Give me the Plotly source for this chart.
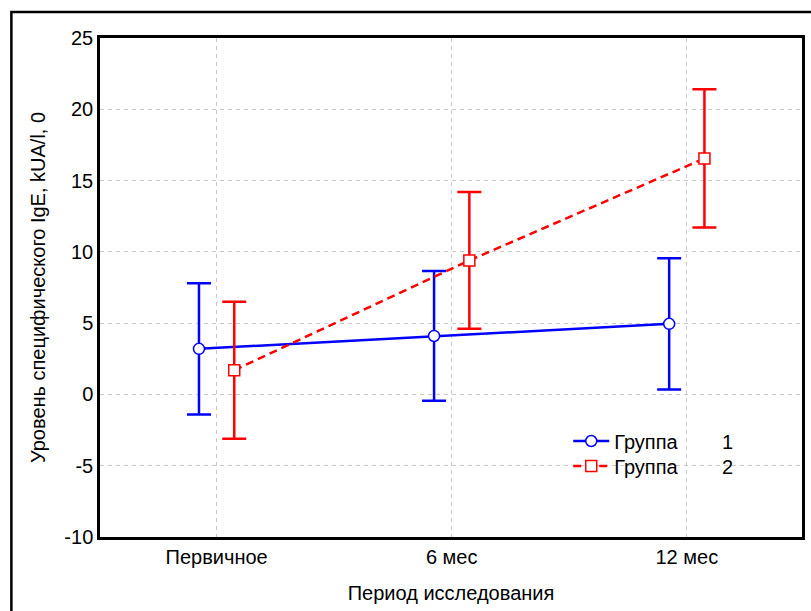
import plotly.graph_objects as go

categories = ["Первичное", "6 мес", "12 мес"]
group1_mean = [3.2, 4.1, 4.95]
group1_err = [4.6, 4.55, 4.6]
group2_mean = [1.7, 9.4, 16.55]
group2_err = [4.8, 4.8, 4.85]
y_ticks = [-10, -5, 0, 5, 10, 15, 20, 25]
y_ticktext = ["-10", "-5", "0", "5", "10", "15", "20", "25"]
offset = 0.075

x_idx = list(range(len(categories)))
x1 = [i - offset for i in x_idx]
x2 = [i + offset for i in x_idx]

font = "Liberation Sans, Arial, sans-serif"
nb = "\u00a0"

fig = go.Figure()
fig.add_trace(go.Scatter(
    x=x1, y=group1_mean, mode="lines+markers",
    name="Группа" + nb * 8 + "1", legend="legend",
    line=dict(color="#0000ff", width=2.5),
    marker=dict(symbol="circle", size=11, color="white", line=dict(color="#0000ff", width=1.5)),
    error_y=dict(type="data", array=group1_err, color="#0000ff", thickness=2.5, width=12),
))
fig.add_trace(go.Scatter(
    x=x2, y=group2_mean, mode="lines+markers",
    name="Группа" + nb * 8 + "2", legend="legend2",
    line=dict(color="#ff0000", width=2.5, dash="8px,5px"),
    marker=dict(symbol="square", size=11, color="white", line=dict(color="#ff0000", width=1.5)),
    error_y=dict(type="data", array=group2_err, color="#ff0000", thickness=2.5, width=12),
))

leg_common = dict(xanchor="left", yanchor="middle", bgcolor="rgba(0,0,0,0)",
                  font=dict(size=20), itemwidth=36)

fig.update_layout(
    width=811, height=611,
    margin=dict(l=100, r=6, t=38, b=74),
    paper_bgcolor="white", plot_bgcolor="white",
    font=dict(family=font, size=20, color="black"),
    showlegend=True,
    legend=dict(x=0.667, y=(537 - 441) / 499, **leg_common),
    legend2=dict(x=0.667, y=(537 - 466) / 499, **leg_common),
    xaxis=dict(
        range=[-0.496, 2.49], tickmode="array", tickvals=x_idx, ticktext=categories,
        showgrid=True, gridcolor="#c8c8c8", griddash="4px,4px", gridwidth=1,
        showline=True, linecolor="black", linewidth=2.5, mirror=True,
        zeroline=False, ticks="", tickfont=dict(size=20),
        title=dict(text="Период исследования", font=dict(size=20), standoff=20),
    ),
    yaxis=dict(
        range=[-10, 25], tickmode="array", tickvals=y_ticks, ticktext=y_ticktext,
        showgrid=True, gridcolor="#c8c8c8", griddash="4px,4px", gridwidth=1,
        showline=True, linecolor="black", linewidth=2.5, mirror=True,
        zeroline=False, ticks="", tickfont=dict(size=20),
        title=dict(text="Уровень специфического IgE, kUA/l, 0", font=dict(size=20), standoff=14),
    ),
    shapes=[dict(type="rect", xref="paper", yref="paper",
                 x0=(11 - 100) / 705, x1=1.2, y0=-0.3, y1=(537 - 12) / 499,
                 line=dict(color="black", width=2.5), layer="below")],
)

fig.write_html("out.html")
